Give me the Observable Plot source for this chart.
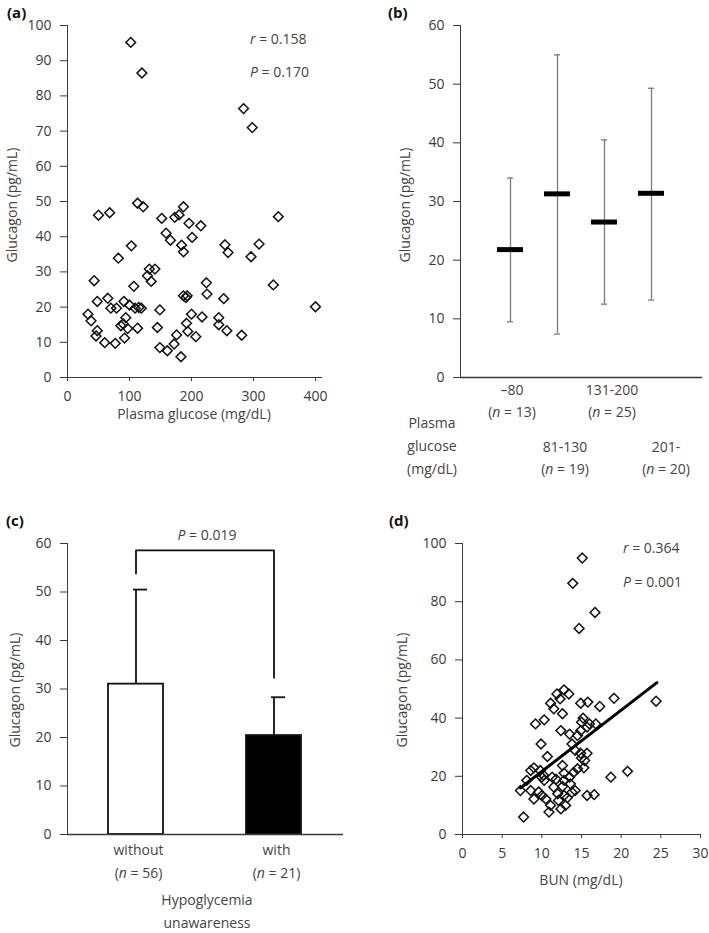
<!DOCTYPE html>
<html><head><meta charset="utf-8">
<script src="https://cdn.jsdelivr.net/npm/d3@7"></script>
<script src="https://cdn.jsdelivr.net/npm/@observablehq/plot@0.6"></script>
<style>
body{margin:0;background:#fff;}
#wrap{position:relative;width:709px;height:933px;overflow:hidden;font-family:"Open Sans",sans-serif;color:#444;font-size:14px;background:#fff;}
#wrap svg{position:absolute;}
.t{position:absolute;white-space:nowrap;line-height:1;}
.c{transform:translate(-50%,-50%);}
.l{transform:translate(0,-50%);}
.rot{transform:translate(-50%,-50%) rotate(-90deg);}
.pl{font-weight:bold;color:#111;font-size:15px;}
</style></head>
<body><div id="wrap"></div>
<script>
// ---------- data ----------
// (a) plasma glucose vs glucagon
const glucose = [102,120,284,298, 50,68,113,122,152,173,180,187,196,215, 159,166,201,103,184,187,254,259,309,296,340,
  82,132,141,129,135,43,107,224,225,252,332, 187,191,193, 48,65,70,79,91,100,109,115,119,149,
  33,38,94,86,90,97,113,145, 200,217,244,244,257,192,194, 48,46,60,77,92,176,207,281, 149,161,172,183,400];
const glucagonA = [95.2,86.5,76.4,71.0, 46.1,46.8,49.5,48.5,45.2,45.5,46.2,48.5,43.8,43.1, 41.0,39.0,39.8,37.4,37.6,35.7,37.7,35.5,37.9,34.3,45.7,
  33.9,30.8,30.8,28.9,27.3,27.5,25.9,26.9,23.7,22.4,26.3, 23.2,22.7,23.2, 21.6,22.5,19.7,19.7,21.6,20.6,19.7,19.9,19.7,19.2,
  18.0,16.1,17.0,14.7,15.2,13.9,14.0,14.2, 18.0,17.2,17.0,15.0,13.3,15.4,13.1, 13.3,11.8,9.9,9.7,11.2,12.1,11.6,12.0, 8.5,7.6,9.5,5.9,20.1];
const statsA = ["0.158","0.170"];

// (b) glucose groups
const groupLabels = ["–80","81-130","131-200","201-"];
const groupN = [13,19,25,20];
const groupMean = [21.8,31.3,26.5,31.4];
const groupLow = [9.5,7.4,12.5,13.2];
const groupHigh = [34.0,55.0,40.5,49.3];

// (c) hypoglycemia unawareness
const unawareLabels = ["without","with"];
const unawareN = [56,21];
const unawareMean = [31.0,20.4];
const unawareUpper = [50.5,28.3];
const bracketGroup = ["without","without","with","with"];
const bracketY = [53.8,58.6,58.6,32.3];
const pValueC = "0.019";

// (d) BUN vs glucagon
const bun = [15.1,13.9,16.7,14.7, 11.9,12.8,13.4,12.3,11.1,11.5,12.6,14.9,15.8,17.3,19.1,24.4,
  9.2,10.3,12.4,13.5,15.0,15.2,15.7,16.0,16.8,14.9,14.5, 9.9,13.8,14.2,10.7,14.9,15.7,15.0,15.4,14.5,15.3,12.6,
  8.6,9.0,9.8,10.0,10.3,11.3,12.8,13.5,12.8,12.6,11.5,13.6, 8.1,7.3,8.6,9.0,10.0,10.5,11.1,10.9,12.1,12.8,13.8,14.2,12.4,13.0,
  15.7,16.6,18.7,20.8,7.7, 10.2,12.0,13.2,11.8,9.6,14.0];
const glucagonD = [95.0,86.3,76.3,70.8, 48.3,49.7,48.3,46.6,45.1,43.2,41.5,45.1,45.5,44.0,46.8,45.8,
  38.0,39.4,35.7,34.5,38.6,40.0,36.9,38.0,38.0,35.7,34.0, 31.1,31.1,28.9,26.8,27.9,27.9,26.3,25.4,22.6,22.9,23.7,
  22.0,22.9,22.0,19.7,18.6,19.7,21.1,19.7,18.6,16.5,16.3,17.4, 18.6,15.1,15.1,12.2,13.4,12.2,10.0,7.7,11.7,13.4,14.5,15.1,8.8,10.0,
  13.4,13.7,19.7,21.7,6.0, 20.4,14.0,12.6,19.0,14.6,21.3];
const fitBun = [7.3,24.5];
const fitGlucagon = [16.0,52.2];
const statsD = ["0.364","0.001"];

// ---------- helpers ----------
const wrap = document.getElementById("wrap");
function txt(x, y, html, cls){
  const d = document.createElement("div");
  d.className = "t " + cls;
  d.style.left = x + "px"; d.style.top = y + "px";
  d.innerHTML = html;
  wrap.appendChild(d);
  return d;
}
function place(svg, left, top){
  svg.style.left = left + "px"; svg.style.top = top + "px";
  wrap.appendChild(svg);
  return svg;
}
const baseStyle = {fontFamily:"'Open Sans', sans-serif", fontSize:"14px", color:"#3a3a3a", background:"none", overflow:"visible"};
const ink = "#111";

// ---------- (a) ----------
const aData = glucose.map((g,i)=>({x:g, y:glucagonA[i]}));
const pa = Plot.plot({
  width:354, height:430, marginLeft:67, marginRight:33, marginTop:25, marginBottom:53,
  style: baseStyle,
  x:{domain:[0,409.7], ticks:[0,100,200,300,400], tickSize:4, tickPadding:10, line:true, label:null},
  y:{domain:[0,100], ticks:d3.range(0,101,10), tickSize:7, tickPadding:9, line:true, label:null},
  marks:[
    Plot.dot(aData,{x:"x", y:"y", symbol:"diamond2", r:4.4, stroke:ink, strokeWidth:1.5, fill:"none"})
  ]
});
place(pa, 0, 0);

// ---------- (b) ----------
const bData = groupLabels.map((c,i)=>({c, mean:groupMean[i], lo:groupLow[i], hi:groupHigh[i]}));
const pb = Plot.plot({
  width:349, height:430, marginLeft:100, marginRight:7, marginTop:25, marginBottom:53,
  style: baseStyle,
  x:{type:"band", domain:groupLabels, paddingInner:0.4375, paddingOuter:0.74, axis:null},
  y:{domain:[0,60], ticks:d3.range(0,61,10), tickSize:7, tickPadding:9, line:true, label:null},
  marks:[
    Plot.ruleY([0],{stroke:"#3a3a3a", strokeWidth:1.3}),
    Plot.ruleX(bData,{x:"c", y1:"lo", y2:"hi", stroke:"#7a7a7a", strokeWidth:1.3}),
    Plot.tickY(bData,{x:"c", y:"lo", stroke:"#7a7a7a", strokeWidth:1.3, insetLeft:10, insetRight:10}),
    Plot.tickY(bData,{x:"c", y:"hi", stroke:"#7a7a7a", strokeWidth:1.3, insetLeft:10, insetRight:10}),
    Plot.tickY(bData,{x:"c", y:"mean", stroke:"#000", strokeWidth:5})
  ]
});
place(pb, 360, 0);
{
  const sx = pb.scale("x");
  const labelShift = [2,8,8,15];
  groupLabels.forEach((c,i)=>{
    const cx = 360 + sx.apply(c) + sx.bandwidth/2 + labelShift[i];
    const row = i % 2 === 0 ? 390 : 447;
    txt(cx, row, c, "c");
    txt(cx, row + 22, "(<i>n</i> = " + groupN[i] + ")", "c");
  });
}
txt(432, 423, "Plasma", "c");
txt(432, 446, "glucose", "c");
txt(432, 469, "(mg/dL)", "c");

// ---------- (c) ----------
const cData = unawareLabels.map((c,i)=>({c, mean:unawareMean[i], up:unawareUpper[i]}));
const bracket = bracketGroup.map((g,i)=>({g, y:bracketY[i]}));
const pc = Plot.plot({
  width:354, height:433, marginLeft:67, marginRight:11, marginTop:43, marginBottom:99,
  style: baseStyle,
  x:{type:"band", domain:unawareLabels, paddingInner:0.6, paddingOuter:0.296, axis:null},
  y:{domain:[0,60], ticks:d3.range(0,61,10), tickSize:7, tickPadding:9, line:true, label:null},
  marks:[
    Plot.ruleX(cData,{x:"c", y1:"mean", y2:"up", stroke:ink, strokeWidth:1.8}),
    Plot.tickY(cData,{x:"c", y:"up", stroke:ink, strokeWidth:1.8, insetLeft:25, insetRight:16}),
    Plot.barY(cData,{x:"c", y:"mean", fill:(d,i)=> i === 0 ? "#fff" : "#000", stroke:ink, strokeWidth:1.8}),
    Plot.line(bracket,{x:"g", y:"y", stroke:ink, strokeWidth:1.8}),
    Plot.ruleY([0],{stroke:"#3a3a3a", strokeWidth:1.3})
  ]
});
place(pc, 0, 500);
{
  const sx = pc.scale("x");
  unawareLabels.forEach((c,i)=>{
    const cx = sx.apply(c) + sx.bandwidth/2 + 3;
    txt(cx, 850, c, "c");
    txt(cx, 873, "(<i>n</i> = " + unawareN[i] + ")", "c");
  });
}
txt(207, 900, "Hypoglycemia", "c");
txt(207, 923, "unawareness", "c");
txt(207, 535, "<i>P</i> = " + pValueC, "c");

// ---------- (d) ----------
const dData = bun.map((b,i)=>({x:b, y:glucagonD[i]}));
const fit = fitBun.map((b,i)=>({x:b, y:fitGlucagon[i]}));
const pd = Plot.plot({
  width:349, height:433, marginLeft:102, marginRight:9, marginTop:43, marginBottom:99,
  style: baseStyle,
  x:{domain:[0,30], ticks:d3.range(0,31,5), tickSize:4, tickPadding:10, line:true, label:null},
  y:{domain:[0,100], ticks:d3.range(0,101,20), tickSize:7, tickPadding:9, line:true, label:null},
  marks:[
    Plot.dot(dData,{x:"x", y:"y", symbol:"diamond2", r:4.4, stroke:ink, strokeWidth:1.5, fill:"none"}),
    Plot.line(fit,{x:"x", y:"y", stroke:"#000", strokeWidth:3})
  ]
});
place(pd, 360, 500);

// ---------- shared text ----------
txt(7, 12, "(a)", "l pl");
txt(388, 12, "(b)", "l pl");
txt(6, 520, "(c)", "l pl");
txt(389, 520, "(d)", "l pl");

txt(12, 205, "Glucagon (pg/mL)", "rot");
txt(405, 205, "Glucagon (pg/mL)", "rot");
txt(15, 690, "Glucagon (pg/mL)", "rot");
txt(402, 690, "Glucagon (pg/mL)", "rot");

txt(194, 414, "Plasma glucose (mg/dL)", "c");
txt(581, 880, "BUN (mg/dL)", "c");

txt(250, 39, "<i>r</i> = " + statsA[0], "l");
txt(250, 72, "<i>P</i> = " + statsA[1], "l");
txt(623, 548, "<i>r</i> = " + statsD[0], "l");
txt(623, 582, "<i>P</i> = " + statsD[1], "l");
</script>
</body></html>
